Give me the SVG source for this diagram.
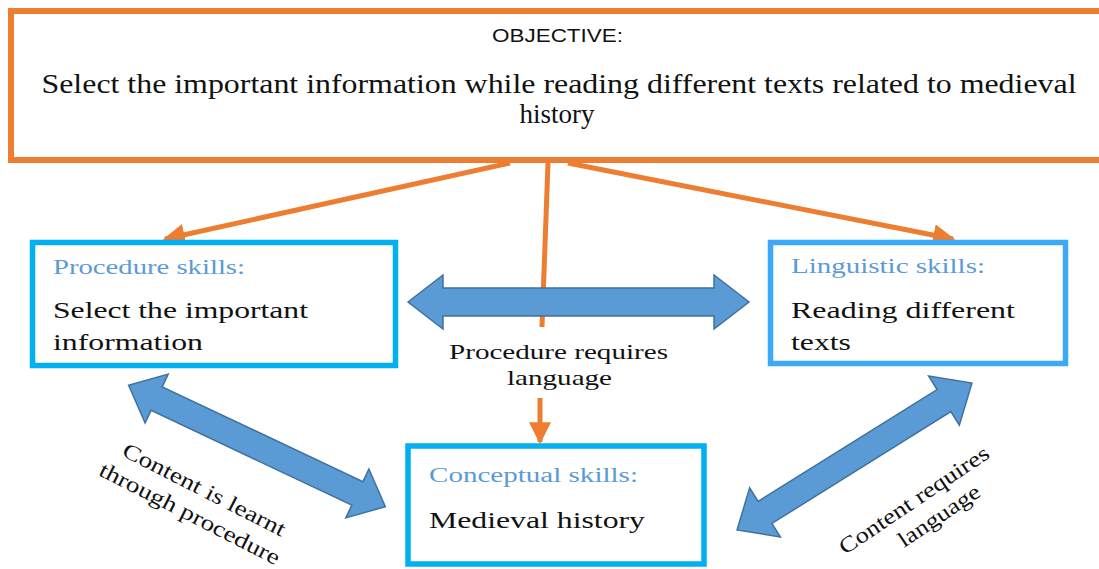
<svg xmlns="http://www.w3.org/2000/svg" width="1099" height="569" viewBox="0 0 1099 569">
  <style>
    .serif { font-family: "Liberation Serif", "Times New Roman", serif; }
    .sans { font-family: "Liberation Sans", Arial, sans-serif; }
    .head { fill: #5B9BD5; font-size: 20px; }
    .body { fill: #111; font-size: 23px; }
    .label { fill: #111; font-size: 22px; }
    .skill { fill: #fff; stroke-width: 5.5; }
    .orange { stroke: #ED7D31; stroke-width: 5; fill: none; }
    .block { fill: #5B9BD5; stroke: #41719C; stroke-width: 1.5; }
  </style>
  <defs>
    <marker id="tip" viewBox="0 0 10 10" refX="9" refY="5" markerWidth="4.4" markerHeight="4.4" markerUnits="strokeWidth" orient="auto">
      <path d="M0,0 L10,5 L0,10 Z" fill="#ED7D31"/>
    </marker>
  </defs>

  <rect width="1099" height="569" fill="#fff"/>

  <!-- connectors -->
  <g id="connectors">
    <line class="orange" x1="510" y1="163" x2="165" y2="239" marker-end="url(#tip)"/>
    <line class="orange" x1="568" y1="163" x2="953" y2="239" marker-end="url(#tip)"/>
    <line class="orange" x1="548" y1="163" x2="542" y2="327"/>
    <line class="orange" x1="540" y1="398" x2="540" y2="442" stroke-width="6" marker-end="url(#tip)"/>

    <!-- procedure <-> linguistic -->
    <path class="block" transform="translate(578.5 302)" d="M-170.5,0 L-135.5,-27 L-135.5,-14 L135.5,-14 L135.5,-27 L170.5,0 L135.5,27 L135.5,14 L-135.5,14 L-135.5,27 Z"/>
    <!-- procedure <-> conceptual -->
    <path class="block" transform="translate(257 446) rotate(25.3)" d="M-142,0 L-111,-27 L-111,-13 L111,-13 L111,-27 L142,0 L111,27 L111,13 L-111,13 L-111,27 Z"/>
    <!-- linguistic <-> conceptual -->
    <path class="block" transform="translate(854.5 456.5) rotate(-32)" d="M-138.5,0 L-105.5,-29 L-105.5,-13 L105.5,-13 L105.5,-29 L138.5,0 L105.5,29 L105.5,13 L-105.5,13 L-105.5,29 Z"/>

    <text class="serif label" x="558.5" y="359" text-anchor="middle" textLength="219" lengthAdjust="spacingAndGlyphs">Procedure requires</text>
    <text class="serif label" x="559.5" y="385" text-anchor="middle" textLength="105" lengthAdjust="spacingAndGlyphs">language</text>

    <g class="serif label" transform="translate(201 496) rotate(27)" text-anchor="middle">
      <text x="0" y="0" textLength="180" lengthAdjust="spacingAndGlyphs">Content is learnt</text>
      <text x="-2" y="28" textLength="200" lengthAdjust="spacingAndGlyphs">through procedure</text>
    </g>
    <g class="serif label" transform="translate(918 506) rotate(-34)" text-anchor="middle">
      <text x="0" y="0" textLength="176" lengthAdjust="spacingAndGlyphs">Content requires</text>
      <text x="12" y="27" textLength="94" lengthAdjust="spacingAndGlyphs">language</text>
    </g>
  </g>

  <!-- objective -->
  <g id="objective">
    <rect x="11" y="11" width="1095" height="149" fill="#fff" stroke="#ED7D31" stroke-width="6"/>
    <text class="sans" x="557.5" y="42" text-anchor="middle" font-size="19" fill="#111" textLength="131" lengthAdjust="spacingAndGlyphs">OBJECTIVE:</text>
    <text class="serif" x="559" y="93" text-anchor="middle" font-size="27" fill="#111" textLength="1035" lengthAdjust="spacingAndGlyphs">Select the important information while reading different texts related to medieval</text>
    <text class="serif" x="557" y="123" text-anchor="middle" font-size="27" fill="#111">history</text>
  </g>

  <!-- procedure skills -->
  <g id="procedure">
    <rect class="skill" x="32.5" y="242.5" width="363" height="123" stroke="#00B0F0"/>
    <text class="serif head" x="53" y="274" textLength="192" lengthAdjust="spacingAndGlyphs">Procedure skills:</text>
    <text class="serif body" x="53" y="318" textLength="255" lengthAdjust="spacingAndGlyphs">Select the important</text>
    <text class="serif body" x="53" y="350" textLength="150" lengthAdjust="spacingAndGlyphs">information</text>
  </g>

  <!-- linguistic skills -->
  <g id="linguistic">
    <rect class="skill" x="770.5" y="242.5" width="295" height="121" stroke="#3BA9F5"/>
    <text class="serif head" x="791" y="273" textLength="194" lengthAdjust="spacingAndGlyphs">Linguistic skills:</text>
    <text class="serif body" x="791" y="318" textLength="224" lengthAdjust="spacingAndGlyphs">Reading different</text>
    <text class="serif body" x="791" y="350" textLength="60" lengthAdjust="spacingAndGlyphs">texts</text>
  </g>

  <!-- conceptual skills -->
  <g id="conceptual">
    <rect class="skill" x="408" y="446" width="296" height="118" stroke="#00B0F0"/>
    <text class="serif head" x="429" y="482" textLength="209" lengthAdjust="spacingAndGlyphs">Conceptual skills:</text>
    <text class="serif body" x="429" y="528" textLength="216" lengthAdjust="spacingAndGlyphs">Medieval history</text>
  </g>
</svg>
